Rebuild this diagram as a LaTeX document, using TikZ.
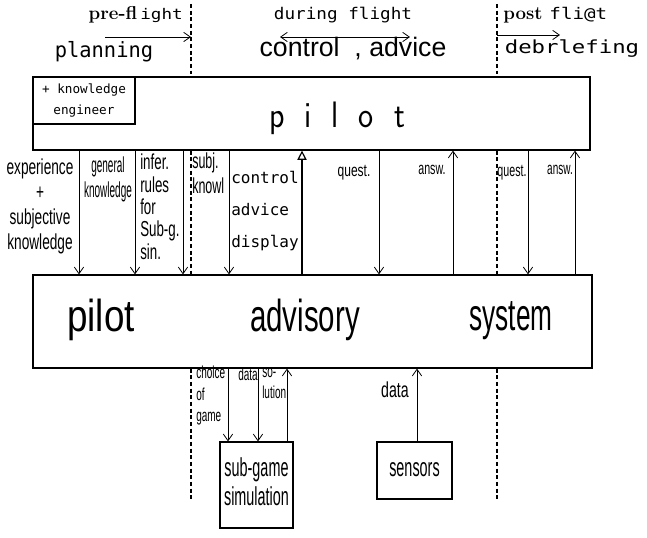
\documentclass[tikz,border=0pt]{standalone}
\usepackage{fontspec}
\usepackage{tikz}
\usetikzlibrary{arrows.meta, positioning, calc}
\newfontfamily\arialf{Liberation Sans}
\newfontfamily\monof{DejaVu Sans Mono}
% narrow, tall label text
\newcommand{\cond}[3][c]{\scalebox{#2}[1.3]{\begin{tabular}{@{}#1@{}}#3\end{tabular}}}

\begin{document}
\begin{tikzpicture}[
    x=0.75pt, y=-0.75pt,
    box/.style={rectangle, draw, line width=0.9pt, inner sep=0pt},
    lbl/.style={font=\arialf\fontsize{12.5}{14.5}\selectfont, inner sep=0pt},
    smlbl/.style={font=\arialf\fontsize{10}{12.3}\selectfont, inner sep=0pt},
    bigword/.style={anchor=base, inner sep=0pt, font=\arialf\fontsize{24}{24}\selectfont},
    dn/.style={-{Straight Barb[length=5pt, width=7pt]}, line width=0.6pt},
    both/.style={{Straight Barb[length=5pt, width=7pt]}-{Straight Barb[length=5pt, width=7pt]}, line width=0.6pt},
    thickarrow/.style={-{Triangle[open, line width=0.9pt, length=7pt, width=7pt]}, line width=2.2pt},
    phase/.style={line width=0.9pt, dash pattern=on 3pt off 2pt}
]
\useasboundingbox (0,0) rectangle (647,538);

% Phases
\node[anchor=base east, inner sep=0pt] (pre) at (183,20) {\fontsize{14}{14}\selectfont\bfseries pre-fl\,{\monof\mdseries\fontsize{11}{11}\selectfont\scalebox{1.2}[1]{ight}}};
\node[anchor=base, inner sep=0pt] (plan) at (104,58) {\monof\fontsize{15}{15}\selectfont\scalebox{1.02}[1.05]{planning}};
\node[anchor=base, inner sep=0pt] (during) at (343,20) {\monof\fontsize{11.5}{11.5}\selectfont\scalebox{1.15}[1.05]{during flight}};
\node[anchor=base, inner sep=0pt] (ctrl) at (353,57) {\arialf\fontsize{20}{20}\selectfont control\ \ , advice};
\node[anchor=base west, inner sep=0pt] (post) at (503,20) {\fontsize{14}{14}\selectfont\bfseries post\ {\monof\mdseries\fontsize{12}{12}\selectfont\scalebox{1.2}[1]{fli@t}}};
\node[anchor=base, inner sep=0pt] (debrief) at (572,54) {\monof\fontsize{13.5}{13.5}\selectfont\scalebox{1.24}[1]{debrlefing}};

\coordinate (pretop) at (191,4);
\coordinate (posttop) at (497,4);
\coordinate (prestart) at (105,37);
\coordinate (durL) at (280,37);
\coordinate (durR) at (410,37);
\coordinate (poststart) at (497,35);
\coordinate (postend) at (560,35);

% Pilot
\node[box, minimum width=417.75pt, minimum height=54.75pt] (pilot) at (311.5,113.5) {};
\node[anchor=base, inner sep=0pt] (pilotname) at (337,128) {\sffamily\fontsize{24}{24}\selectfont\scalebox{1}[1.15]{p\ \ i\ \ l\ \ o\ \ t}};
\node[box, minimum width=76.5pt, minimum height=35.25pt, align=center, font=\monof\fontsize{9.5}{15.75}\selectfont] (engineer) at (84,100.5) {+ knowledge\\engineer};

% Pilot advisory system
\node[box, minimum width=419.25pt, minimum height=69.75pt] (advisory) at (312.5,321.5) {};
\node[bigword] (wpilot) at (101,332) {\scalebox{1.15}[1.4]{pilot}};
\node[bigword] (wadvisory) at (305,332) {\scalebox{0.92}[1.4]{advisory}};
\node[bigword] (wsystem) at (511,331) {\scalebox{0.82}[1.4]{system}};

% Sub-systems
\node[box, minimum width=54.75pt, minimum height=64.5pt, font=\arialf\fontsize{15}{17.3}\selectfont] (subgame) at (256.5,485) {\cond{0.72}{sub-game\\simulation}};
\node[box, minimum width=56.25pt, minimum height=42.75pt, font=\arialf\fontsize{15}{17.3}\selectfont] (sensors) at (414.5,470.5) {\cond{0.72}{sensors}};

% Labels between pilot and system
\node[lbl] (exper) at (40,207) {\cond{0.82}{experience\\+\\subjective\\knowledge}};
\node[lbl] (general) at (108,180) {\cond{0.6}{general\\knowledge}};
\node[lbl, anchor=west, font=\arialf\fontsize{12.5}{12.8}\selectfont] (infer) at (140,210) {\cond[l]{0.8}{infer.\\rules\\for\\Sub-g.\\sin.}};
\node[lbl, anchor=west] (subj) at (192,176) {\cond[l]{0.75}{subj.\\knowl}};
\node[anchor=west, inner sep=0pt, align=left, font=\monof\fontsize{12}{24}\selectfont] (display) at (231,211) {control\\advice\\display};
\node[smlbl] (quest1) at (354,172) {\cond{0.9}{quest.}};
\node[smlbl] (answ1) at (432,170) {\cond{0.8}{answ.}};
\node[smlbl] (quest2) at (512,172) {\cond{0.8}{quest.}};
\node[smlbl] (answ2) at (560,170) {\cond{0.75}{answ.}};

% Labels below system
\node[smlbl, anchor=west] (choice) at (196,396) {\cond[l]{0.75}{choice\\of\\game}};
\node[smlbl] (data1) at (248,376) {\cond{0.75}{data}};
\node[smlbl, anchor=west] (solution) at (262,384) {\cond[l]{0.75}{so-\\lution}};
\node[lbl] (data2) at (395,392) {\cond{0.85}{data}};

% Connections
\draw[dn] (prestart) -- (prestart -| pretop);
\draw[both] (durL) -- (durR);
\draw[dn] (poststart) -- (postend);

\foreach \x in {79,135,183,229,379,528}
    \draw[dn] (\x,0 |- pilot.south) -- (\x,0 |- advisory.north);
\foreach \x in {453,575}
    \draw[dn] (\x,0 |- advisory.north) -- (\x,0 |- pilot.south);
\draw[thickarrow] (302,0 |- advisory.north) -- (302,0 |- pilot.south);

\foreach \x in {228,258}
    \draw[dn] (\x,0 |- advisory.south) -- (\x,0 |- subgame.north);
\draw[dn] (287,0 |- subgame.north) -- (287,0 |- advisory.south);
\draw[dn] (417,0 |- sensors.north) -- (417,0 |- advisory.south);

% Phase borders
\foreach \p in {pretop,posttop} {
    \draw[phase] (\p) -- ($(\p |- pilot.north)+(0,-2)$);
    \draw[phase] (\p |- pilot.south) -- (\p |- advisory.north);
    \draw[phase] (\p |- advisory.south) -- ($(\p |- advisory.south)+(0,132)$);
}

\end{tikzpicture}
\end{document}
